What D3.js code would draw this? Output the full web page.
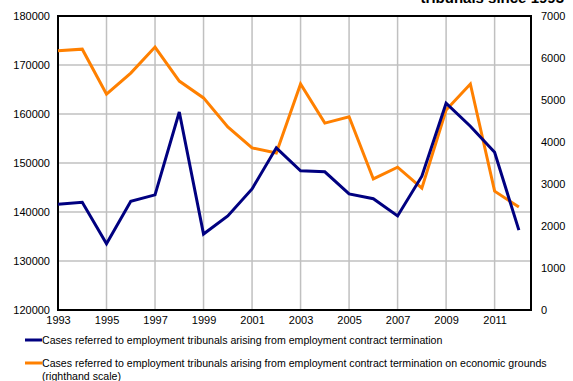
<!DOCTYPE html>
<html>
<head>
    <meta charset="utf-8">
    <title>Employment tribunal cases</title>
    <script src="https://cdn.jsdelivr.net/npm/d3@7"></script>
    <style>
        body { margin: 0; background: #fff; }
        text { font-family: "Liberation Sans", Arial, sans-serif; }
    </style>
</head>
<body>
<script>
    var years = [1993, 1994, 1995, 1996, 1997, 1998, 1999, 2000, 2001, 2002,
                 2003, 2004, 2005, 2006, 2007, 2008, 2009, 2010, 2011, 2012];
    // all contract termination cases (left scale)
    var allCases = [141600, 142000, 133500, 142200, 143500, 160400, 135500, 139200, 144700, 153100,
                    148400, 148200, 143700, 142700, 139200, 147300, 162200, 157500, 152200, 136300];
    // economic grounds (right scale)
    var econCases = [6170, 6210, 5140, 5640, 6260, 5450, 5050, 4360, 3860, 3740,
                     5380, 4450, 4600, 3120, 3400, 2900, 4760, 5380, 2830, 2450];
    var xTicks = [1993, 1995, 1997, 1999, 2001, 2003, 2005, 2007, 2009, 2011];
    var leftTicks = [120000, 130000, 140000, 150000, 160000, 170000, 180000];
    var rightTicks = [0, 1000, 2000, 3000, 4000, 5000, 6000, 7000];
    var legendLabels = ["Cases referred to employment tribunals arising from employment contract termination",
                        "Cases referred to employment tribunals arising from employment contract termination on economic grounds",
                        "(righthand scale)"];

    var w = 573, h = 381;
    var pLeft = 58, pRight = 531, pTop = 16, pBottom = 310;

    var svg = d3.select("body").append("svg")
                .attr("width", w)
                .attr("height", h);

    var x = d3.scaleLinear().domain([1993, 2012.5]).range([pLeft, pRight]);
    var yL = d3.scaleLinear().domain([120000, 180000]).range([pBottom, pTop]);
    var yR = d3.scaleLinear().domain([0, 7000]).range([pBottom, pTop]);

    // title, mostly cut off at the top
    svg.append("text")
        .attr("x", 564).attr("y", 3)
        .attr("text-anchor", "end")
        .attr("font-size", 15).attr("font-weight", "bold")
        .text("tribunals since 1993");

    // grid
    svg.selectAll("line.hg").data(leftTicks).enter().append("line")
        .attr("x1", pLeft).attr("x2", pRight)
        .attr("y1", function(d) { return yL(d); })
        .attr("y2", function(d) { return yL(d); })
        .attr("stroke", "#c0c0c0").attr("stroke-width", 1.5);
    svg.selectAll("line.vg").data(xTicks).enter().append("line")
        .attr("x1", function(d) { return x(d); })
        .attr("x2", function(d) { return x(d); })
        .attr("y1", pTop).attr("y2", pBottom)
        .attr("stroke", "#c0c0c0").attr("stroke-width", 1.5);

    // axes
    var axL = svg.append("g").attr("transform", "translate(" + pLeft + ",0)")
        .call(d3.axisLeft(yL).tickValues(leftTicks).tickSize(0).tickPadding(8).tickFormat(d3.format("d")));
    var axR = svg.append("g").attr("transform", "translate(" + pRight + ",0)")
        .call(d3.axisRight(yR).tickValues(rightTicks).tickSize(0).tickPadding(10).tickFormat(d3.format("d")));
    var axB = svg.append("g").attr("transform", "translate(0," + pBottom + ")")
        .call(d3.axisBottom(x).tickValues(xTicks).tickSize(0).tickPadding(6).tickFormat(d3.format("d")));
    [axL, axR, axB].forEach(function(g) {
        g.select(".domain").remove();
        g.selectAll("text").attr("font-size", 11).attr("fill", "#000")
            .attr("font-family", "'Liberation Sans', Arial, sans-serif");
    });

    // frame
    svg.append("rect")
        .attr("x", pLeft).attr("y", pTop)
        .attr("width", pRight - pLeft).attr("height", pBottom - pTop)
        .attr("fill", "none").attr("stroke", "#000").attr("stroke-width", 2);

    // lines
    var lineL = d3.line()
        .x(function(d, i) { return x(years[i]); })
        .y(function(d) { return yL(d); });
    var lineR = d3.line()
        .x(function(d, i) { return x(years[i]); })
        .y(function(d) { return yR(d); });

    svg.append("path").datum(econCases)
        .attr("d", lineR)
        .attr("fill", "none").attr("stroke", "#ff8000").attr("stroke-width", 3);
    svg.append("path").datum(allCases)
        .attr("d", lineL)
        .attr("fill", "none").attr("stroke", "#000080").attr("stroke-width", 3);

    // legend
    var legY = [340, 363];
    var legColors = ["#000080", "#ff8000"];
    legY.forEach(function(yy, i) {
        svg.append("line")
            .attr("x1", 25).attr("x2", 42)
            .attr("y1", yy).attr("y2", yy)
            .attr("stroke", legColors[i]).attr("stroke-width", 3);
        svg.append("text")
            .attr("x", 42).attr("y", yy + 4)
            .attr("font-size", 10.6)
            .text(legendLabels[i]);
    });
    svg.append("text")
        .attr("x", 42).attr("y", 380)
        .attr("font-size", 10.6)
        .text(legendLabels[2]);
</script>
</body>
</html>
